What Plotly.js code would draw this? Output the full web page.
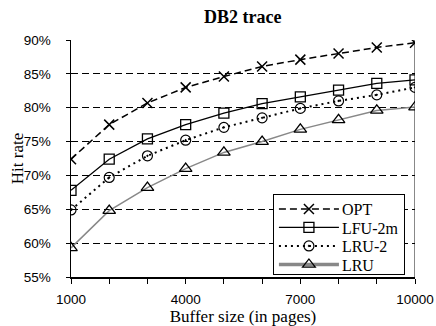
<!DOCTYPE html>
<html>
<head>
<meta charset="utf-8">
<script src="https://cdn.plot.ly/plotly-3.0.1.min.js"></script>
<style>
  html, body { margin: 0; padding: 0; background: #fff; }
  #chart { width: 436px; height: 326px; }
</style>
</head>
<body>
<div id="chart"></div>
<script>
// Buffer sizes (pages) and hit rates (%) for the DB2 trace
const bufferSizes = [1000, 2000, 3000, 4000, 5000, 6000, 7000, 8000, 9000, 10000];
const optHit   = [72.4, 77.5, 80.7, 83.0, 84.6, 86.1, 87.1, 88.0, 88.9, 89.6];
const lfu2mHit = [67.8, 72.4, 75.4, 77.5, 79.2, 80.6, 81.6, 82.6, 83.6, 84.1];
const lru2Hit  = [64.9, 69.7, 72.9, 75.2, 77.1, 78.5, 79.9, 81.0, 81.9, 83.0];
const lruHit   = [59.3, 64.8, 68.2, 71.0, 73.4, 75.0, 76.8, 78.2, 79.6, 80.1];

const xTickVals = bufferSizes;
const xTickText = ['1000', '', '', '4000', '', '', '7000', '', '', '10000'];
const yTickVals = [55, 60, 65, 70, 75, 80, 85, 90];

const serif = 'Liberation Serif, Times New Roman, serif';
const sans = 'Liberation Sans, Arial, sans-serif';

// legend sample line length, row pitch and frame height (px)
const LEGEND_LINE = 60;
const LEGEND_ROW = 18.5;
const LEGEND_HEIGHT = 80;

function pct(arr) { return arr.map(v => v / 100); }

const traces = [
  {
    name: 'OPT', x: bufferSizes, y: pct(optHit), mode: 'lines+markers',
    line: { color: '#000', width: 1.5, dash: '7px,4px' },
    marker: { symbol: 'x-thin-open', size: 10, color: '#000', line: { width: 1.5, color: '#000' } }
  },
  {
    name: 'LFU-2m', x: bufferSizes, y: pct(lfu2mHit), mode: 'lines+markers',
    line: { color: '#000', width: 1.3 },
    marker: { symbol: 'square-open', size: 10, color: '#000', line: { width: 1.3, color: '#000' } }
  },
  {
    name: 'LRU-2', x: bufferSizes, y: pct(lru2Hit), mode: 'lines+markers',
    line: { color: '#000', width: 2, dash: '2px,4px' },
    marker: { symbol: 'circle-open-dot', size: 10, color: '#000', line: { width: 1.2, color: '#000' } }
  },
  {
    name: 'LRU', x: bufferSizes, y: pct(lruHit), mode: 'lines+markers',
    line: { color: '#888', width: 1.5 },
    marker: { symbol: 'triangle-up-open', size: 11, color: '#000', line: { width: 1.3, color: '#000' } }
  }
];

const layout = {
  width: 436, height: 326,
  margin: { l: 71, r: 21, t: 40, b: 49 },
  paper_bgcolor: '#fff', plot_bgcolor: '#fff',
  showlegend: true,
  title: {
    text: '<b>DB2 trace</b>',
    font: { family: serif, size: 18, color: '#000' },
    x: 0.557, xanchor: 'center', y: 0.948, yanchor: 'middle'
  },
  xaxis: {
    range: [1000, 10000],
    tickmode: 'array', tickvals: xTickVals, ticktext: xTickText,
    ticks: 'outside', ticklen: 5, tickcolor: '#000', tickwidth: 1,
    ticklabelstandoff: 4,
    showline: true, linecolor: '#000', linewidth: 1.5,
    showgrid: false, zeroline: false,
    tickfont: { family: sans, size: 13.5, color: '#000' },
    title: { text: 'Buffer size (in pages)', font: { family: serif, size: 17, color: '#000' }, standoff: 6 },
    automargin: false
  },
  yaxis: {
    range: [0.55, 0.90],
    tickmode: 'array', tickvals: yTickVals.map(v => v / 100), tickformat: '.0%',
    ticks: 'outside', ticklen: 4, tickcolor: '#000', tickwidth: 1,
    ticklabelstandoff: 12,
    showline: true, linecolor: '#000', linewidth: 1.5,
    showgrid: true, gridcolor: '#000', gridwidth: 1, griddash: '7px,4px',
    zeroline: false,
    tickfont: { family: sans, size: 13.5, color: '#000' },
    title: { text: 'Hit rate', font: { family: serif, size: 17, color: '#000' }, standoff: 0 },
    automargin: false
  },
  shapes: [
    { type: 'line', xref: 'x', yref: 'paper', x0: 10000, x1: 10000, y0: 0, y1: 1,
      line: { color: '#888', width: 2 }, layer: 'below' }
  ],
  legend: {
    x: 0.587, xanchor: 'left', y: 0.35, yanchor: 'top',
    bgcolor: '#fff', bordercolor: '#000', borderwidth: 1,
    font: { family: serif, size: 16, color: '#000' },
    tracegroupgap: 0, itemwidth: LEGEND_LINE - 2
  }
};

function parseTranslate(el) {
  const m = /translate\(\s*([-\d.]+)[ ,]+([-\d.]+)\s*\)/.exec(el.getAttribute('transform') || '');
  return m ? [parseFloat(m[1]), parseFloat(m[2])] : [0, 0];
}

Plotly.newPlot('chart', traces, layout, { displayModeBar: false, staticPlot: true }).then(gd => {
  // nudge the y-axis title towards the tick labels
  const yt = gd.querySelector('.g-ytitle');
  if (yt) yt.setAttribute('transform', 'translate(4,0)');

  const items = Array.from(gd.querySelectorAll('.legend .traces'));
  if (!items.length) return;
  const [, firstY] = parseTranslate(items[0]);
  const topY = firstY - 3;

  items.forEach((item, i) => {
    // tighter rows
    const [x] = parseTranslate(item);
    item.setAttribute('transform', 'translate(' + x + ',' + (topY + i * LEGEND_ROW) + ')');
    // stretch the sample lines and centre the symbols on them
    item.querySelectorAll('.legendlines path').forEach(p => {
      p.setAttribute('d', 'M5,0h' + LEGEND_LINE);
      if (i === 3) p.style.strokeWidth = '3.5px';
    });
    item.querySelectorAll('.legendpoints path').forEach(p => {
      p.setAttribute('transform', 'translate(' + (5 + LEGEND_LINE / 2) + ',0)');
    });
  });

  // fit the legend frame to the tighter rows
  gd.querySelectorAll('.legend rect.bg').forEach(r => {
    r.setAttribute('height', LEGEND_HEIGHT);
  });
});
</script>
</body>
</html>
